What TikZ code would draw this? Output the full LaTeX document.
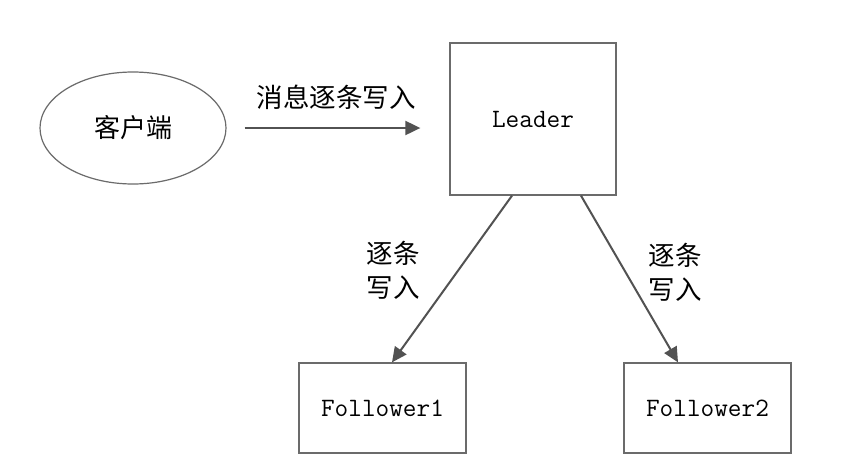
\documentclass[tikz,border=0pt]{standalone}
\usepackage{fontspec}
\setmonofont{Latin Modern Mono}
\newfontfamily\cjk{Noto Sans CJK SC}
\usetikzlibrary{arrows.meta,shapes.geometric}
\begin{document}
\begin{tikzpicture}[x=1pt,y=-1pt,
  boxstyle/.style={draw=black!58, line width=1.3pt, rectangle, inner sep=0pt, font=\ttfamily\fontsize{26.5}{30}\selectfont},
  ovalstyle/.style={draw=black!58, line width=1.2pt, ellipse, inner sep=0pt, minimum width=186pt, minimum height=112pt, font=\cjk\fontsize{26}{30}\selectfont},
  conn/.style={draw=black!68, line width=2pt, -{Triangle[length=15pt,width=14pt]}},
  lbl/.style={font=\cjk\fontsize{26.5}{34}\selectfont, align=center, inner sep=0pt}]
\useasboundingbox[fill=white] (0,0) rectangle (852,472);
\node[ovalstyle] (client) at (133,128) {客户端};
\node[boxstyle, minimum width=166pt, minimum height=152pt] (leader) at (533,119) {Leader};
\node[boxstyle, minimum width=167pt, minimum height=90pt] (f1) at (382.5,408) {Follower1};
\node[boxstyle, minimum width=167pt, minimum height=90pt] (f2) at (707.5,408) {Follower2};
\draw[conn, shorten <=18pt, shorten >=29pt] (client.east) -- (client.east -| leader.west);
\draw[conn] ([xshift=-21pt]leader.south) -- ([xshift=9.5pt]f1.north);
\draw[conn] ([xshift=48pt]leader.south) -- ([xshift=-29.5pt]f2.north);
\node[lbl] (ltop) at (336,97) {消息逐条写入};
\node[lbl] (lleft) at (393,270) {逐条\\写入};
\node[lbl] (lright) at (675,272) {逐条\\写入};
\end{tikzpicture}
\end{document}
